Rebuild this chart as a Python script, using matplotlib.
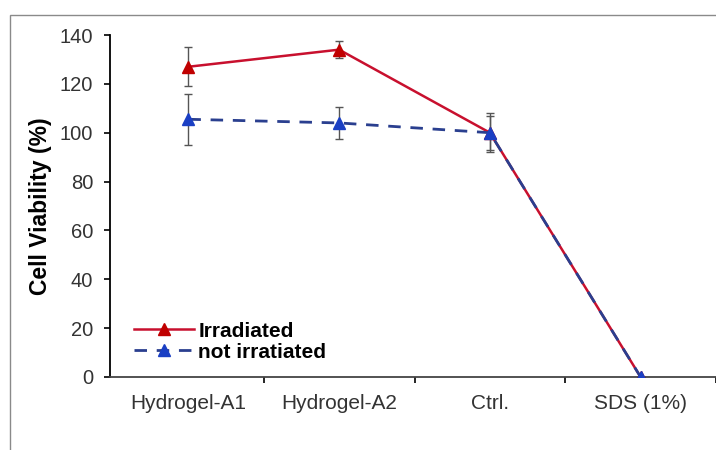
import matplotlib.pyplot as plt
from matplotlib.patches import Rectangle
import numpy as np

plt.rcParams['font.family'] = ['Liberation Sans', 'DejaVu Sans']

groups = ['Hydrogel-A1', 'Hydrogel-A2', 'Ctrl.', 'SDS (1%)']
irr = [127, 134, 100, 0]
irr_err = [8, 3.5, 7, 0]
notirr = [105.5, 104, 100, 0]
notirr_err = [10.5, 6.5, 8, 0]

x = np.arange(1, len(groups) + 1)

fig = plt.figure(figsize=(7.16, 4.5), dpi=100)
# outer frame of the pasted figure
fig.patches.append(Rectangle((10 / 716, -0.1), 1.0, 1 - 15 / 450 + 0.1,
                             transform=fig.transFigure, fill=False,
                             edgecolor='#8a8a8a', linewidth=1.0))
ax = fig.add_axes([110 / 716, 1 - 377 / 450, 1 - 110 / 716, (377 - 35) / 450])

ax.errorbar(x, irr, yerr=irr_err, fmt='none', ecolor='#555555', elinewidth=1,
            capsize=3, zorder=2)
ax.errorbar(x, notirr, yerr=notirr_err, fmt='none', ecolor='#555555', elinewidth=1,
            capsize=3, zorder=2)
ax.plot(x, irr, color='#c8102e', lw=1.8, marker='^', ms=9, mfc='#c00000',
        mec='#c00000', label='Irradiated', zorder=3)
ax.plot(x, notirr, color='#2a3f8f', lw=2.0, ls=(0, (4.5, 3.5)), marker='^', ms=9,
        mfc='#1a3fc4', mec='#1a3fc4', label='not irratiated', zorder=4)

ax.set_xlim(0.48, 4.5)
ax.set_ylim(0, 140)
ax.set_yticks(np.arange(0, 141, 20))
ax.set_xticks(x)
ax.set_xticklabels(groups)
ax.set_xticks(np.arange(1.5, 4.6, 1), minor=True)
ax.tick_params(axis='x', which='major', length=0, pad=12, labelsize=15,
               labelcolor='#333333')
ax.tick_params(axis='x', which='minor', length=4, width=1.2, direction='out')
ax.tick_params(axis='y', length=4, width=1.2, direction='out', pad=8,
               labelsize=14.5, labelcolor='#333333')
for s in ['top', 'right']:
    ax.spines[s].set_visible(False)
ax.spines['left'].set_linewidth(1.3)
ax.spines['bottom'].set_linewidth(1.3)
ax.spines['bottom'].set_color('#444444')
ax.set_ylabel('Cell Viability (%)', fontsize=16.5, fontweight='bold', labelpad=6)

ax.legend(loc='lower left', bbox_to_anchor=(0.008, -0.01), frameon=False,
          handlelength=2.9, handletextpad=0.2, labelspacing=0.1,
          prop={'size': 15, 'weight': 'bold'})

fig.savefig('out.png', dpi=100)
